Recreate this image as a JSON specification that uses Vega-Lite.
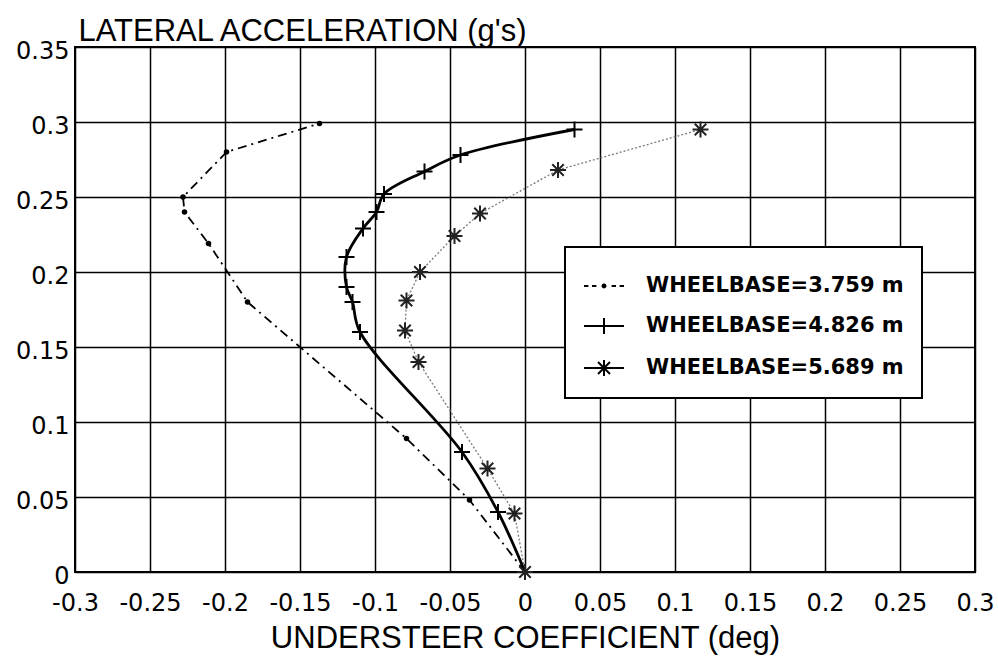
{
  "$schema": "https://vega.github.io/schema/vega-lite/v6.json",
  "width": 900,
  "height": 525,
  "autosize": {"type": "none"},
  "padding": {"left": 75, "top": 47, "right": 23, "bottom": 91},
  "background": "white",
  "config": {
    "view": {"stroke": "black", "strokeWidth": 2},
    "axis": {
      "grid": true,
      "gridColor": "black",
      "gridWidth": 1.5,
      "gridOpacity": 1,
      "domain": false,
      "ticks": false,
      "labelOverlap": false,
      "labelFlush": false,
      "labelFont": "DejaVu Sans",
      "labelFontSize": 24,
      "labelColor": "black",
      "titleFont": "Liberation Sans",
      "titleFontSize": 31,
      "titleFontWeight": "normal",
      "titleColor": "black"
    },
    "legend": {"strokeWidth": 2}
  },
  "data": {
    "values": [
      {"series": "WHEELBASE=3.759 m", "i": 0, "x": 0, "y": 0},
      {"series": "WHEELBASE=3.759 m", "i": 1, "x": -0.037, "y": 0.048},
      {"series": "WHEELBASE=3.759 m", "i": 2, "x": -0.079, "y": 0.089},
      {"series": "WHEELBASE=3.759 m", "i": 3, "x": -0.185, "y": 0.18},
      {"series": "WHEELBASE=3.759 m", "i": 4, "x": -0.211, "y": 0.219},
      {"series": "WHEELBASE=3.759 m", "i": 5, "x": -0.227, "y": 0.24},
      {"series": "WHEELBASE=3.759 m", "i": 6, "x": -0.228, "y": 0.25},
      {"series": "WHEELBASE=3.759 m", "i": 7, "x": -0.199, "y": 0.28},
      {"series": "WHEELBASE=3.759 m", "i": 8, "x": -0.137, "y": 0.299},
      {"series": "WHEELBASE=4.826 m", "i": 0, "x": 0, "y": 0},
      {"series": "WHEELBASE=4.826 m", "i": 1, "x": -0.018, "y": 0.04},
      {"series": "WHEELBASE=4.826 m", "i": 2, "x": -0.042, "y": 0.08},
      {"series": "WHEELBASE=4.826 m", "i": 3, "x": -0.11, "y": 0.16},
      {"series": "WHEELBASE=4.826 m", "i": 4, "x": -0.115, "y": 0.18},
      {"series": "WHEELBASE=4.826 m", "i": 5, "x": -0.119, "y": 0.19},
      {"series": "WHEELBASE=4.826 m", "i": 6, "x": -0.119, "y": 0.21},
      {"series": "WHEELBASE=4.826 m", "i": 7, "x": -0.108, "y": 0.229},
      {"series": "WHEELBASE=4.826 m", "i": 8, "x": -0.099, "y": 0.24},
      {"series": "WHEELBASE=4.826 m", "i": 9, "x": -0.094, "y": 0.252},
      {"series": "WHEELBASE=4.826 m", "i": 10, "x": -0.067, "y": 0.267},
      {"series": "WHEELBASE=4.826 m", "i": 11, "x": -0.043, "y": 0.278},
      {"series": "WHEELBASE=4.826 m", "i": 12, "x": 0.033, "y": 0.295},
      {"series": "WHEELBASE=5.689 m", "i": 0, "x": 0, "y": 0},
      {"series": "WHEELBASE=5.689 m", "i": 1, "x": -0.007, "y": 0.039},
      {"series": "WHEELBASE=5.689 m", "i": 2, "x": -0.025, "y": 0.069},
      {"series": "WHEELBASE=5.689 m", "i": 3, "x": -0.071, "y": 0.14},
      {"series": "WHEELBASE=5.689 m", "i": 4, "x": -0.08, "y": 0.161},
      {"series": "WHEELBASE=5.689 m", "i": 5, "x": -0.079, "y": 0.181},
      {"series": "WHEELBASE=5.689 m", "i": 6, "x": -0.07, "y": 0.2},
      {"series": "WHEELBASE=5.689 m", "i": 7, "x": -0.047, "y": 0.224},
      {"series": "WHEELBASE=5.689 m", "i": 8, "x": -0.03, "y": 0.239},
      {"series": "WHEELBASE=5.689 m", "i": 9, "x": 0.022, "y": 0.268},
      {"series": "WHEELBASE=5.689 m", "i": 10, "x": 0.117, "y": 0.295}
    ]
  },
  "encoding": {
    "x": {
      "field": "x",
      "type": "quantitative",
      "scale": {"domain": [-0.3, 0.3], "nice": false, "zero": false},
      "axis": {
        "title": "UNDERSTEER COEFFICIENT (deg)",
        "values": [-0.3, -0.25, -0.2, -0.15, -0.1, -0.05, 0, 0.05, 0.1, 0.15, 0.2, 0.25, 0.3],
        "labelExpr": "datum.value == 0 ? '0' : (datum.value < 0 ? '-' : '') + format(abs(datum.value), '~g')",
        "labelPadding": 19,
        "titlePadding": 8
      }
    },
    "y": {
      "field": "y",
      "type": "quantitative",
      "scale": {"domain": [0, 0.35], "nice": false},
      "axis": {
        "title": "LATERAL ACCELERATION (g's)",
        "values": [0, 0.05, 0.1, 0.15, 0.2, 0.25, 0.3, 0.35],
        "labelExpr": "datum.value == 0 ? '0' : format(datum.value, '~g')",
        "labelPadding": 6,
        "labelOffset": 4,
        "titleAngle": 0,
        "titleAlign": "left",
        "titleBaseline": "alphabetic",
        "titleX": 3,
        "titleY": -7
      }
    }
  },
  "layer": [
    {
      "transform": [{"filter": "datum.series == 'WHEELBASE=5.689 m'"}],
      "mark": {"type": "line", "color": "#7a7a7a", "strokeWidth": 1.3, "strokeDash": [2, 2]},
      "encoding": {"order": {"field": "i", "type": "quantitative"}}
    },
    {
      "transform": [{"filter": "datum.series == 'WHEELBASE=3.759 m'"}],
      "mark": {"type": "line", "color": "black", "strokeWidth": 1.8, "strokeDash": [9, 5, 2, 5]},
      "encoding": {"order": {"field": "i", "type": "quantitative"}}
    },
    {
      "transform": [{"filter": "datum.series == 'WHEELBASE=4.826 m'"}],
      "mark": {"type": "line", "color": "black", "strokeWidth": 2.8, "interpolate": "catmull-rom"},
      "encoding": {"order": {"field": "i", "type": "quantitative"}}
    },
    {
      "transform": [{"filter": "datum.series == 'WHEELBASE=3.759 m'"}],
      "mark": {"type": "point", "shape": "circle", "filled": true, "color": "black", "size": 30, "opacity": 1}
    },
    {
      "transform": [{"filter": "datum.series == 'WHEELBASE=4.826 m'"}],
      "mark": {"type": "point", "shape": "M-1,0L1,0M0,-1L0,1", "filled": false, "color": "black", "size": 256, "strokeWidth": 2, "opacity": 1}
    },
    {
      "transform": [{"filter": "datum.series == 'WHEELBASE=5.689 m'"}],
      "mark": {"type": "point", "shape": "M-1,0L1,0M0,-1L0,1M-0.72,-0.72L0.72,0.72M-0.72,0.72L0.72,-0.72", "filled": false, "color": "#222222", "size": 256, "strokeWidth": 2, "opacity": 1}
    },
    {
      "mark": {"type": "point", "filled": false, "color": "black", "strokeWidth": 2, "opacity": 0},
      "encoding": {
        "shape": {
          "field": "series",
          "type": "nominal",
          "scale": {
            "domain": ["WHEELBASE=3.759 m", "WHEELBASE=4.826 m", "WHEELBASE=5.689 m"],
            "range": [
              "M-1,0L-0.78,0M-0.6,0L-0.38,0M0.38,0L0.6,0M0.78,0L1,0M0.07,0A0.07,0.07,0,1,1,-0.07,0A0.07,0.07,0,1,1,0.07,0ZM-0.12,0L0.12,0M0,-0.12L0,0.12",
              "M-1,0L1,0M0,-0.4L0,0.4",
              "M-1,0L1,0M0,-0.4L0,0.4M-0.3,-0.3L0.3,0.3M-0.3,0.3L0.3,-0.3"
            ]
          },
          "legend": {
            "title": null,
            "orient": "none",
            "legendX": 490,
            "legendY": 200,
            "symbolSize": 1600,
            "symbolOpacity": 1,
            "symbolFillColor": "black",
            "symbolStrokeColor": "black",
            "symbolStrokeWidth": 2,
            "labelFont": "DejaVu Sans",
            "labelFontWeight": "bold",
            "labelFontSize": 21,
            "labelColor": "black",
            "labelOffset": 21,
            "labelLimit": 400,
            "padding": 18,
            "rowPadding": 9,
            "strokeColor": "black",
            "fillColor": "white",
            "encode": {
              "symbols": {
                "update": {
                  "fill": {"value": "black"},
                  "stroke": {"value": "black"},
                  "strokeWidth": {"value": 2},
                  "opacity": {"value": 1},
                  "fillOpacity": {"value": 1},
                  "strokeOpacity": {"value": 1}
                }
              }
            }
          }
        }
      }
    }
  ]
}
